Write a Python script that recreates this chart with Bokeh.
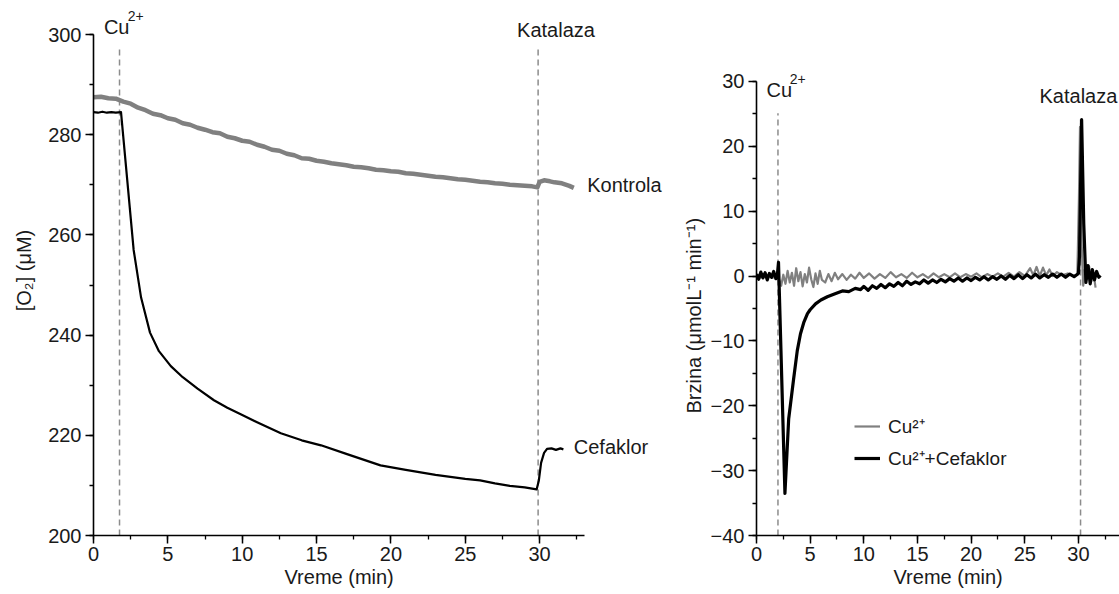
from bokeh.plotting import figure
from bokeh.layouts import row
from bokeh.models import SingleIntervalTicker, Range1d, Legend, LegendItem, Title
from bokeh.core.properties import value
from bokeh.embed import file_html
from bokeh.resources import INLINE

FONT = "Liberation Sans"

# ---------------- Left panel data: [O2] (uM) vs time (min) ----------------
t_kontrola = [0, 0.5, 1.0, 1.5, 2.0, 2.5, 3.0, 3.5, 4.0, 4.5, 5.0, 5.5, 6.0, 6.5, 7.0, 7.5,
              8.0, 8.5, 9.0, 9.5, 10.0, 10.5, 11.0, 11.5, 12.0, 12.5, 13.0, 13.5, 14.0,
              14.5, 15.0, 15.5, 16.0, 16.5, 17.0, 17.5, 18.0, 18.5, 19.0, 19.5, 20.0,
              20.5, 21.0, 21.5, 22.0, 22.5, 23.0, 23.5, 24.0, 24.5, 25.0, 25.5, 26.0,
              26.5, 27.0, 27.5, 28.0, 28.5, 29.0, 29.5, 29.85, 30.0, 30.3, 30.7, 31.0,
              31.5, 32.0, 32.3]
o2_kontrola = [287.5, 287.6, 287.3, 287.2, 286.6, 286.2, 285.4, 284.9, 284.2, 283.9, 283.3,
               283.0, 282.3, 282.0, 281.4, 281.0, 280.5, 280.3, 279.6, 279.3, 278.8, 278.6,
               278.0, 277.6, 277.0, 276.8, 276.2, 275.9, 275.3, 275.2, 274.8, 274.6, 274.3,
               274.1, 273.9, 273.6, 273.5, 273.3, 273.0, 272.9, 272.7, 272.6, 272.3, 272.2,
               272.0, 271.8, 271.6, 271.5, 271.3, 271.1, 271.0, 270.8, 270.6, 270.5, 270.3,
               270.2, 270.0, 269.9, 269.8, 269.7, 269.5, 270.6, 270.9, 270.7, 270.5, 270.3,
               269.8, 269.4]

t_cefaklor = [0, 0.3, 0.6, 0.9, 1.2, 1.5, 1.85, 2.7, 3.2, 3.8, 4.4, 5.2, 6.0, 7.0, 8.1, 9.0,
              9.9, 11.0, 12.6, 14.0, 15.3, 17.0, 19.3, 21.0, 23.0, 25.0, 26.0, 27.0, 28.0,
              29.0, 29.8, 29.95, 30.1, 30.3, 30.5, 30.8, 31.1, 31.4, 31.6]
o2_cefaklor = [284.5, 284.4, 284.6, 284.4, 284.5, 284.4, 284.5, 257.0, 247.5, 240.5, 236.8,
               233.8, 231.6, 229.3, 227.0, 225.5, 224.2, 222.6, 220.4, 219.0, 218.0, 216.3,
               214.0, 213.1, 212.1, 211.3, 211.0, 210.4, 209.9, 209.6, 209.2, 211.0, 214.5,
               216.5, 217.3, 217.4, 217.1, 217.4, 217.2]

left_events = [1.75, 29.9]
left_event_labels = ["Cu", "Katalaza"]

# ---------------- Right panel data: rate vs time ----------------
t_cu = [0.0, 0.3, 0.6, 0.9, 1.2, 1.5, 1.8, 2.1, 2.3, 2.5, 2.7, 2.9, 3.1, 3.3, 3.5, 3.7, 3.9,
        4.1, 4.3, 4.5, 4.7, 4.9, 5.1, 5.3, 5.5, 5.7, 5.9, 6.1, 6.4, 6.7, 7.0, 7.3, 7.6, 8.0,
        8.4, 8.8, 9.2, 9.6, 10.0, 10.5, 11.0, 11.5, 12.0, 12.5, 13.0, 13.5, 14.0, 14.5, 15.0,
        15.5, 16.0, 16.5, 17.0, 17.5, 18.0, 18.5, 19.0, 19.5, 20.0, 20.5, 21.0, 21.5, 22.0,
        22.5, 23.0, 23.5, 24.0, 24.5, 25.0, 25.5, 25.8, 26.1, 26.4, 26.7, 27.0, 27.3, 27.6,
        28.0, 28.5, 29.0, 29.5, 29.9, 30.05, 30.15, 30.3, 30.45, 30.6, 30.8, 31.0, 31.2,
        31.4, 31.6]
rate_cu = [0.2, -0.3, 0.3, -0.2, 0.4, -0.3, 0.2, -0.5, -1.5, 0.2, -1.2, 0.8, -1.0, 0.5, -1.5,
           1.2, -0.8, 0.6, -1.6, 0.3, -1.0, 1.3, -0.5, -1.7, 0.4, -1.2, 0.8, -0.6, -1.0, 0.3,
           -0.8, 0.5, -0.5, 0.3, -0.6, 0.2, -0.4, 0.5, -0.3, 0.4, -0.4, 0.3, -0.3, 0.6, -0.2,
           0.3, -0.3, 0.5, -0.2, 0.3, -0.3, 0.4, -0.2, 0.3, -0.2, 0.4, -0.2, 0.3, -0.1, 0.4,
           -0.2, 0.3, -0.1, 0.4, -0.1, 0.5, -0.1, 0.6, 0.0, 1.2, 0.1, 1.4, 0.0, 1.3, 0.1, 1.0,
           0.0, 0.6, 0.1, 0.4, 0.0, 0.2, 12.0, 23.0, 5.0, -1.5, 1.0, -0.5, 1.5, -0.8, 0.5, -1.8]

t_cu_cef = [0.0, 0.2, 0.4, 0.6, 0.8, 1.0, 1.2, 1.4, 1.6, 1.8, 1.95, 2.05, 2.65, 3.0, 3.45, 3.8,
            4.1, 4.4, 4.75, 5.0, 5.5, 6.0, 6.6, 7.2, 8.0, 8.6, 9.2, 9.7, 10.0, 10.4, 10.8,
            11.2, 11.6, 12.0, 12.4, 12.8, 13.2, 13.6, 14.0, 14.4, 14.8, 15.2, 15.6, 16.0,
            16.4, 16.8, 17.2, 17.6, 18.0, 18.4, 18.8, 19.2, 19.6, 20.0, 20.4, 20.8, 21.2,
            21.6, 22.0, 22.4, 22.8, 23.2, 23.6, 24.0, 24.4, 24.8, 25.2, 25.6, 26.0, 26.4,
            26.8, 27.2, 27.6, 28.0, 28.4, 28.8, 29.2, 29.6, 30.0, 30.1, 30.3, 30.5, 30.7,
            30.9, 31.1, 31.3, 31.5, 31.7, 31.9, 32.05]
rate_cu_cef = [0.3, -0.5, 0.6, -0.3, 0.5, -0.6, 0.4, -0.2, 0.7, -0.4, 0.3, 2.1, -33.5, -22.0,
               -16.0, -11.5, -8.9, -7.2, -5.8, -5.2, -4.3, -3.7, -3.2, -2.8, -2.3, -2.4, -1.9,
               -2.1, -1.6, -2.2, -1.5, -1.9, -1.3, -1.8, -1.2, -1.6, -1.0, -1.5, -0.8, -1.3,
               -0.9, -1.2, -0.6, -1.1, -0.6, -1.0, -0.5, -0.9, -0.4, -0.8, -0.3, -0.8, -0.3,
               -0.7, -0.2, -0.6, -0.1, -0.6, -0.1, -0.5, 0.0, -0.5, 0.1, -0.4, 0.2, -0.4, 0.2,
               -0.3, 0.3, -0.3, 0.2, -0.2, 0.3, -0.2, 0.3, -0.2, 0.3, -0.1, 0.4, 3.0, 24.1, 8.0,
               -1.0, 1.6, -1.2, 1.0, -0.6, 0.7, -0.2, 0.1]

right_events = [2.0, 30.2]
right_event_labels = ["Cu", "Katalaza"]
ion_charge = "2+"

GRAY = "#808080"
DASH_GRAY = "#8c8c8c"
INK = "#1a1a1a"
FS = "20px"


def style_axes(p, ylabel):
    for ax in (p.xaxis[0], p.yaxis[0]):
        ax.axis_line_color = "black"
        ax.axis_line_width = 1.6
        ax.major_tick_line_color = "black"
        ax.major_tick_line_width = 1.5
        ax.minor_tick_line_color = "black"
        ax.minor_tick_line_width = 1.3
        ax.major_tick_out = 8
        ax.major_tick_in = 0
        ax.minor_tick_out = 4
        ax.minor_tick_in = 0
        ax.major_label_text_font = FONT
        ax.major_label_text_font_size = FS
        ax.major_label_text_color = INK
        ax.axis_label_text_font = FONT
        ax.axis_label_text_font_size = FS
        ax.axis_label_text_font_style = "normal"
        ax.axis_label_text_color = INK
    if ylabel:
        p.yaxis[0].axis_label = ylabel
    p.xaxis[0].major_label_standoff = 3
    p.yaxis[0].major_label_standoff = 4
    p.grid.visible = False
    p.outline_line_color = None
    p.background_fill_color = "white"
    p.border_fill_color = "white"


def side_title(p, s, offset, side, standoff=0):
    p.add_layout(Title(text=s, align="left", offset=offset, standoff=standoff,
                       text_font=FONT, text_font_size=FS, text_font_style="normal",
                       text_color=INK), side)


def txt(p, x, y, s, size=FS, align="left", baseline="alphabetic", **kw):
    p.text(x=[x], y=[y], text=[s], text_font=value(FONT), text_font_size=size,
           text_color=INK, text_align=align, text_baseline=baseline, **kw)


# ---------------- Left figure ----------------
p1 = figure(output_backend="svg", toolbar_location=None,
            frame_width=579, frame_height=530,
            min_border_left=93, min_border_right=0, min_border_top=5, min_border_bottom=59,
            x_range=Range1d(0, 579 / 14.87), y_range=Range1d(200, 305.8))
p1.xaxis[0].ticker = SingleIntervalTicker(interval=5, num_minor_ticks=2)
p1.yaxis[0].ticker = SingleIntervalTicker(interval=20, num_minor_ticks=2)
p1.xaxis[0].bounds = (0, 33)
p1.yaxis[0].bounds = (200, 300)
style_axes(p1, "[O₂] (μM)")
p1.yaxis[0].axis_label_standoff = 10
side_title(p1, "Vreme (min)", 191, "below")

for xe in left_events:
    p1.segment(x0=xe, y0=200, x1=xe, y1=297, line_color=DASH_GRAY, line_width=1.5,
               line_dash="6 4")

p1.line(t_kontrola, o2_kontrola, line_color=GRAY, line_width=4.5, line_join="round")
p1.line(t_cefaklor, o2_cefaklor, line_color="black", line_width=2.2, line_join="round")

txt(p1, 0.7, 301.6, left_event_labels[0])
txt(p1, 2.3, 303.8, ion_charge, size="14px")
txt(p1, 31.1, 301.0, left_event_labels[1], align="center")
txt(p1, 33.2, 269.9, "Kontrola", baseline="middle")
txt(p1, 32.3, 217.6, "Cefaklor", baseline="middle")

# ---------------- Right figure ----------------
p2 = figure(output_backend="svg", toolbar_location=None,
            frame_width=363, frame_height=530,
            min_border_left=84, min_border_right=0, min_border_top=5, min_border_bottom=59,
            x_range=Range1d(0, 33.83), y_range=Range1d(-40, 41.7))
p2.xaxis[0].ticker = SingleIntervalTicker(interval=5, num_minor_ticks=2)
p2.yaxis[0].ticker = SingleIntervalTicker(interval=10, num_minor_ticks=2)
p2.yaxis[0].bounds = (-40, 30)
style_axes(p2, None)
side_title(p2, "Vreme (min)", 947 - 54 - 756, "below")
side_title(p2, "Brzina  (μmolL⁻¹ min⁻¹)", 122, "left", standoff=6)

p2.segment(x0=right_events[0], y0=-40, x1=right_events[0], y1=25.1, line_color=DASH_GRAY,
           line_width=1.5, line_dash="6 4")
p2.segment(x0=right_events[1], y0=-40, x1=right_events[1], y1=24.5, line_color=DASH_GRAY,
           line_width=1.5, line_dash="6 4")

r_cu = p2.line(t_cu, rate_cu, line_color=GRAY, line_width=2.2, line_join="round")
r_cef = p2.line(t_cu_cef, rate_cu_cef, line_color="black", line_width=3.2, line_join="round")

txt(p2, 0.93, 28.6, right_event_labels[0])
txt(p2, 3.1, 30.3, ion_charge, size="14px")
txt(p2, 30.0, 27.7, right_event_labels[1], align="center")

legend = Legend(items=[LegendItem(label="Cu²⁺", renderers=[r_cu]),
                       LegendItem(label="Cu²⁺+Cefaklor", renderers=[r_cef])],
                location=(98, 64))
legend.border_line_color = None
legend.background_fill_alpha = 0
legend.padding = 0
legend.margin = 0
legend.spacing = 6
legend.glyph_width = 26
legend.glyph_height = 24
legend.label_height = 24
legend.label_standoff = 8
legend.label_text_font = FONT
legend.label_text_font_size = "19px"
legend.label_text_color = INK
p2.add_layout(legend, "center")

layout = row(p1, p2, spacing=0)
open("out.html", "w").write(file_html(layout, INLINE))
